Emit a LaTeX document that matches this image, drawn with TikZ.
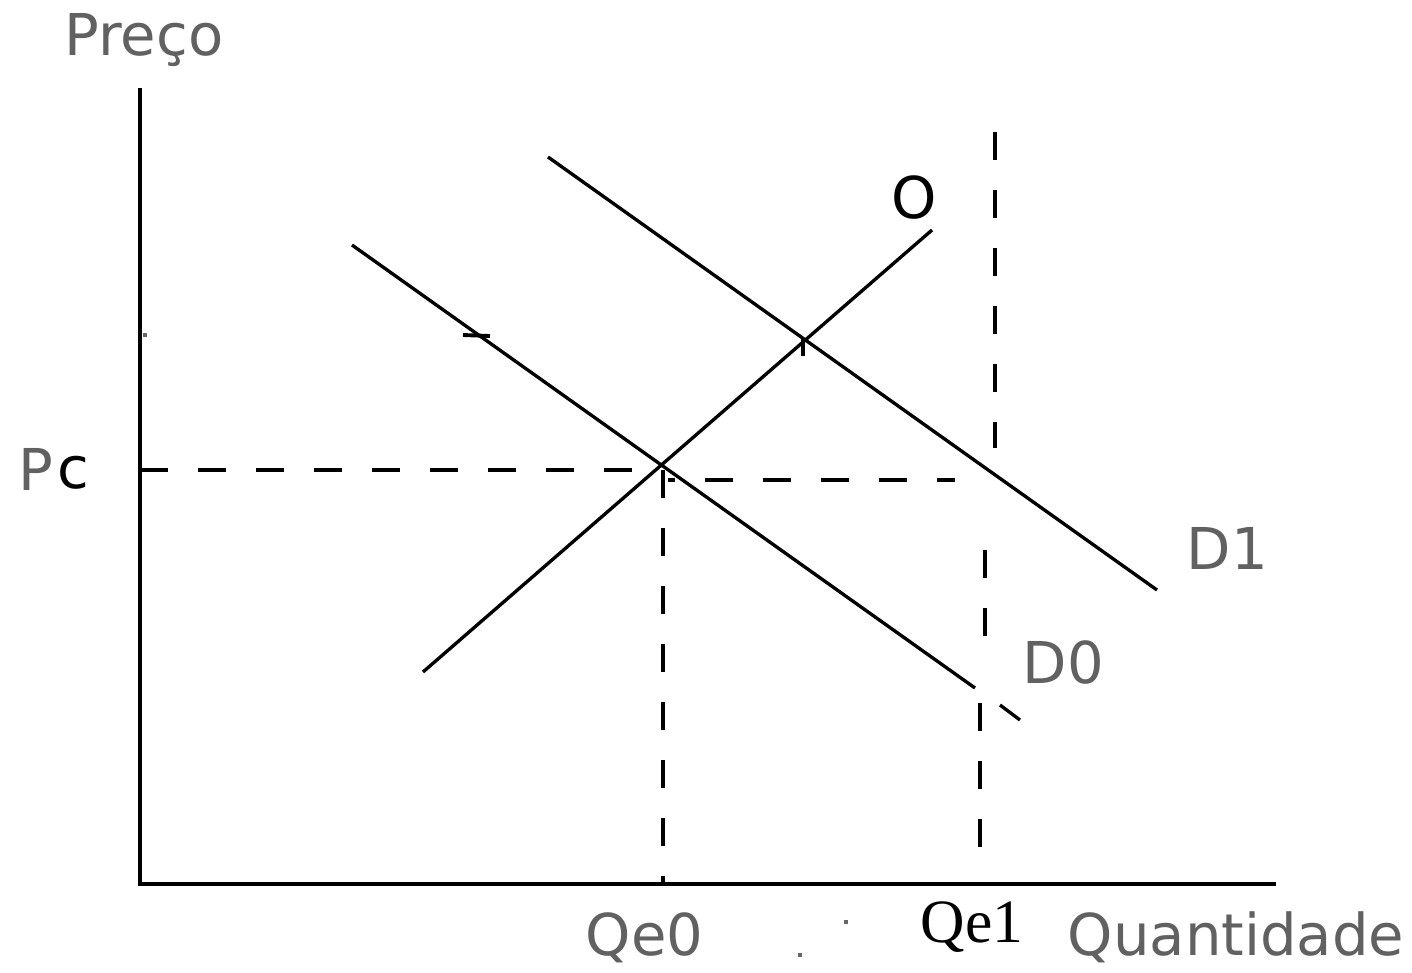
\documentclass[tikz,border=0pt]{standalone}
\usepackage{fontspec}
\setmainfont{DejaVu Sans}
\newfontfamily\qserif{Liberation Serif}

\begin{document}
\begin{tikzpicture}[x=0.01cm, y=-0.01cm, font=\fontsize{16.4}{19}\selectfont,
  axis/.style={line width=1.15pt},
  curve/.style={line width=0.95pt},
  guide/.style={line width=1.1pt, dash pattern=on 8pt off 8.5pt},
  lbl/.style={inner sep=0pt, anchor=base west, text=black!62},
  lblk/.style={inner sep=0pt, anchor=base west, text=black}]
  \useasboundingbox (0,0) rectangle (1412,972);
  % axes
  \coordinate (origin) at (140,884);
  \coordinate (ytop) at (140,88);
  \coordinate (xend) at (1276,884);
  \draw[axis] (ytop) -- (origin) -- (xend);
  % supply and demand
  \coordinate (O0) at (423,672);
  \coordinate (O1) at (932,230);
  \coordinate (D00) at (352,245);
  \coordinate (D01) at (975,688);
  \coordinate (D02) at (1000,705);
  \coordinate (D03) at (1020,720);
  \coordinate (D10) at (548,157);
  \coordinate (D11) at (1157,590);
  \draw[curve] (O0) to (O1);
  \draw[curve] (D00) to (D01);
  \draw[curve] (D02) to (D03);
  \draw[curve] (D10) to (D11);
  % small marks
  \coordinate (m0) at (463,335);
  \coordinate (m1) at (490,336);
  \coordinate (m2) at (803,338);
  \coordinate (m3) at (803,356);
  \draw[line width=1.1pt] (m0) to (m1);
  \draw[line width=1.1pt] (m2) to (m3);
  % guides
  \coordinate (Pc) at (140,470);
  \coordinate (E0) at (660,470);
  \coordinate (E0b) at (668,480);
  \coordinate (E1) at (955,480);
  \coordinate (Q0) at (663,470);
  \coordinate (Q0b) at (663,884);
  \coordinate (Q1a) at (995,132);
  \coordinate (Q1b) at (995,448);
  \coordinate (Q1c) at (985,550);
  \coordinate (Q1d) at (985,636);
  \coordinate (Q1e) at (980,703);
  \coordinate (Q1f) at (980,848);
  \draw[guide] (Pc) to (E0);
  \draw[guide, dash phase=6pt] (E0b) to (E1);
  \draw[guide] (Q0) to (Q0b);
  \draw[guide] (Q1a) to (Q1b);
  \draw[guide] (Q1c) to (Q1d);
  \draw[guide] (Q1e) to (Q1f);
  % stray dots
  \fill[black!60] (143,333) rectangle (147,337);
  \fill[black!60] (798,953) rectangle (802,957);
  \fill[black!60] (844,920) rectangle (848,924);
  % labels
  \node[lbl] (preco) at (64,55) {Preço};
  \node[lbl] (pP) at (18,490) {P};
  \node[lblk] (pc) at (57,488) {c};
  \node[lblk, anchor=base] (oLbl) at (914,218) {O};
  \node[lbl] (d1) at (1186,569) {D1};
  \node[lbl] (d0) at (1022,683) {D0};
  \node[lbl] (qe0) at (585,955) {Qe0};
  \node[lblk, font=\qserif\fontsize{17.5}{20}\selectfont] (qe1) at (920,942) {Qe1};
  \node[lbl] (qty) at (1067,955) {Quantidade};
\end{tikzpicture}
\end{document}
